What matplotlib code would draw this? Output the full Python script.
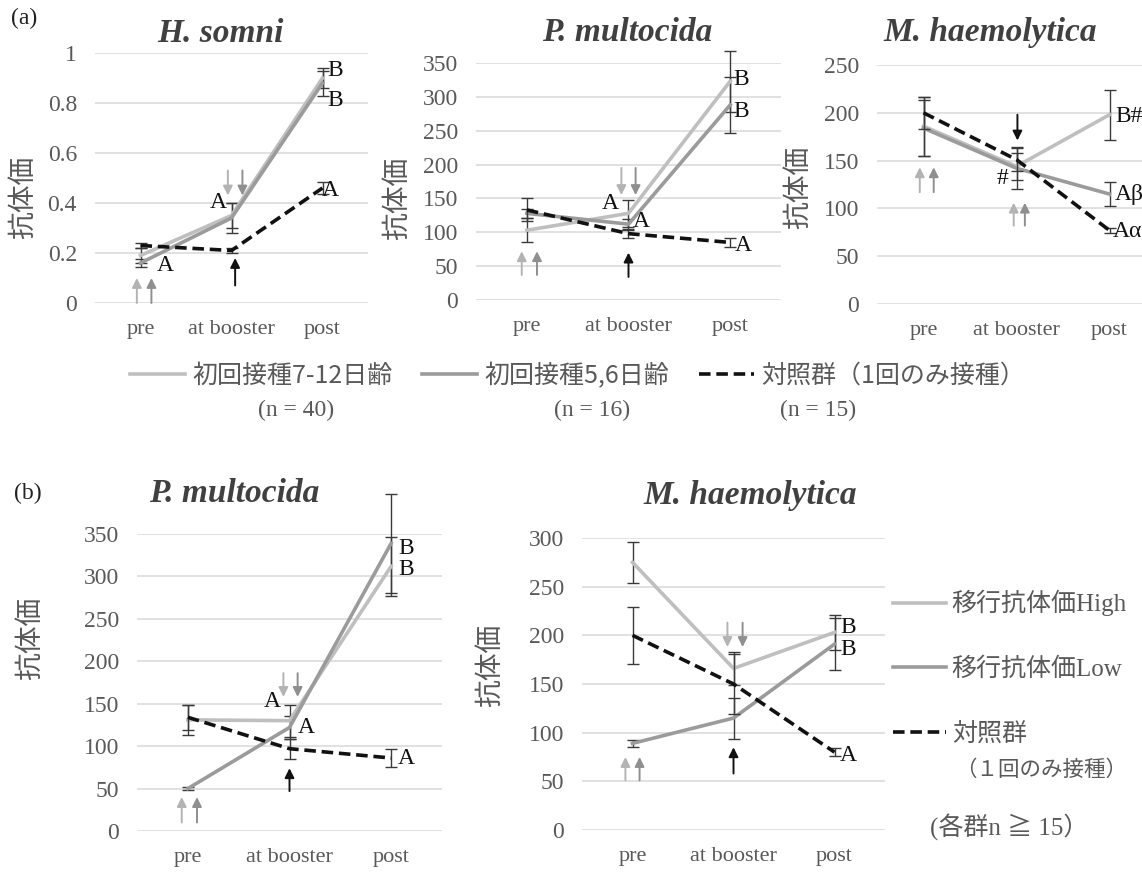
import matplotlib
matplotlib.use('Agg')
import matplotlib.pyplot as plt
from matplotlib.lines import Line2D

# ==========================================
# 1. DATA
# ==========================================
stages = ['pre', 'at booster', 'post']

# (a) 初回接種日齢別 : 7-12日齢 / 5,6日齢 / 対照群
hs_712 = [0.19, 0.35, 0.90]
hs_712_err = [0.03, 0.05, 0.04]
hs_56 = [0.16, 0.34, 0.88]
hs_56_err = [0.015, 0.06, 0.05]
hs_ctrl = [0.23, 0.21, 0.46]
hs_ctrl_err = [0.01, 0.01, 0.025]

pm_712 = [103, 128, 323]
pm_712_err = [18, 20, 45]
pm_56 = [128, 112, 288]
pm_56_err = [7, 8, 42]
pm_ctrl = [133, 98, 85]
pm_ctrl_err = [17, 7, 6]

mh_712 = [186, 144, 198]
mh_712_err = [31, 14, 26]
mh_56 = [184, 142, 115]
mh_56_err = [29, 22, 13]
mh_ctrl = [200, 151, 77]
mh_ctrl_err = [17, 12, 3]

# (b) 移行抗体価別 : High / Low / 対照群
bpm_high = [131, 130, 312]
bpm_high_err = [18, 19, 35]
bpm_low = [50, 122, 339]
bpm_low_err = [2, 14, 58]
bpm_ctrl = [134, 97, 86]
bpm_ctrl_err = [15, 12, 11]

bmh_high = [275, 166, 203]
bmh_high_err = [21, 17, 18]
bmh_low = [89, 115, 191]
bmh_low_err = [3.5, 21, 27]
bmh_ctrl = [200, 150, 80]
bmh_ctrl_err = [29, 31, 4]

legend_a = ['初回接種7-12日齢', '初回接種5,6日齢', '対照群（1回のみ接種）']
legend_a_n = ['(n = 40)', '(n = 16)', '(n = 15)']
legend_b = ['移行抗体価High', '移行抗体価Low', '対照群']

# significance letters: (stage index, x offset, y, text, ha)
hs_letters = [(2, 0.14, 0.93, 'B', 'center'), (2, 0.14, 0.81, 'B', 'center'),
              (2, 0.09, 0.45, 'A', 'center'), (1, -0.15, 0.40, 'A', 'center'),
              (0, 0.27, 0.15, 'A', 'center')]
pm_letters = [(2, 0.11, 325, 'B', 'center'), (2, 0.11, 278, 'B', 'center'),
              (1, -0.18, 143, 'A', 'center'), (1, 0.13, 116, 'A', 'center'),
              (2, 0.13, 81, 'A', 'center')]
mh_letters = [(2, 0.06, 196, 'B#', 'left'), (2, 0.06, 115, 'Aβ', 'left'),
              (2, 0.04, 76, 'Aα', 'left'), (1, -0.15, 131, '#', 'center')]
bpm_letters = [(2, 0.15, 333, 'B', 'center'), (2, 0.15, 308, 'B', 'center'),
               (1, -0.17, 153, 'A', 'center'), (1, 0.16, 122, 'A', 'center'),
               (2, 0.15, 86, 'A', 'center')]
bmh_letters = [(2, 0.14, 208, 'B', 'center'), (2, 0.14, 185, 'B', 'center'),
               (2, 0.14, 77, 'A', 'center')]

# vaccination arrows: (stage index, x offset, y from, y to, colour)
hs_arrows = [(0, -0.04, 0.0, 0.10, 'light'), (0, 0.12, 0.0, 0.10, 'mid'),
             (1, -0.04, 0.53, 0.43, 'light'), (1, 0.12, 0.53, 0.43, 'mid'),
             (1, 0.04, 0.07, 0.18, 'black')]
pm_arrows = [(0, -0.05, 37, 72, 'light'), (0, 0.10, 37, 72, 'mid'),
             (1, -0.07, 195, 155, 'light'), (1, 0.07, 195, 155, 'mid'),
             (1, 0.0, 34, 70, 'black')]
mh_arrows = [(0, -0.04, 117, 143, 'light'), (0, 0.11, 117, 143, 'mid'),
             (1, -0.03, 82, 106, 'light'), (1, 0.09, 82, 106, 'mid'),
             (1, 0.01, 198, 171, 'black')]
bpm_arrows = [(0, -0.06, 10, 40, 'light'), (0, 0.09, 10, 40, 'mid'),
              (1, -0.06, 186, 158, 'light'), (1, 0.08, 186, 158, 'mid'),
              (1, 0.0, 47, 74, 'black')]
bmh_arrows = [(0, -0.07, 51, 75, 'light'), (0, 0.07, 51, 75, 'mid'),
              (1, -0.06, 213, 188, 'light'), (1, 0.09, 213, 188, 'mid'),
              (1, 0.0, 58, 85, 'black')]

# ==========================================
# 2. STYLE
# ==========================================
C_LIGHT = '#bfbfbf'
C_MID = '#9b9b9b'
C_CTRL = '#111111'
ARROW_C = {'light': '#b3b3b3', 'mid': '#8f8f8f', 'black': '#111111'}
TXT = '#595959'
SERIF = 'Liberation Serif'
CJK = 'Noto Sans CJK JP'
MIXED = [SERIF, CJK]

W, H = 1142, 873
fig = plt.figure(figsize=(W / 100, H / 100), dpi=100)


def px_axes(left, top, right, bottom):
    return fig.add_axes([left / W, 1 - bottom / H, (right - left) / W, (bottom - top) / H])


def draw_panel(ax, series, ymax, yticks, ylabels, title, title_xy, ylab_xy, letters, arrows):
    x = list(range(len(stages)))
    ax.set_xlim(-0.5, 2.5)
    ax.set_ylim(0, ymax)
    ax.set_yticks(yticks)
    ax.set_yticklabels(ylabels, fontfamily=SERIF, fontsize=17, color=TXT)
    ax.set_xticks(x)
    ax.set_xticklabels(stages, fontfamily=SERIF, fontsize=16, color=TXT)
    ax.tick_params(axis='y', length=0, pad=13)
    ax.tick_params(axis='x', length=0, pad=12)
    for s in ax.spines.values():
        s.set_visible(False)
    ax.yaxis.grid(True, color='#d9d9d9', lw=1.1)
    ax.set_axisbelow(True)

    for vals, err, color, dashed in series:
        eb = ax.errorbar(x, vals, yerr=err, color=color, lw=2.6, ecolor='#3a3a3a',
                         elinewidth=1.0, capsize=4, capthick=1.0, zorder=3 if dashed else 2)
        if dashed:
            eb[0].set_dashes([3.2, 1.6])
        for art in eb.get_children():
            art.set_clip_on(False)

    for i, dx, y, t, ha in letters:
        ax.text(i + dx, y, t, fontfamily=SERIF, fontsize=17, color='#111111',
                ha=ha, va='center', zorder=5)

    for i, dx, y0, y1, c in arrows:
        ax.annotate('', xy=(i + dx, y1), xytext=(i + dx, y0), annotation_clip=False,
                    arrowprops=dict(arrowstyle='-|>', color=ARROW_C[c], lw=1.4,
                                    mutation_scale=14, shrinkA=0, shrinkB=0))

    ax.text(title_xy[0], title_xy[1], title, transform=ax.transAxes, fontfamily=SERIF,
            fontsize=24, fontweight='bold', fontstyle='italic', color='#404040',
            ha='center', va='center')
    ax.text(ylab_xy[0], ylab_xy[1], '抗体価', transform=ax.transAxes, fontfamily=CJK,
            fontsize=20, color=TXT, rotation=90, ha='center', va='center')


# ==========================================
# 3. PANEL (a)
# ==========================================
ax1 = px_axes(95, 53, 368, 303)
draw_panel(ax1,
           [(hs_712, hs_712_err, C_LIGHT, False), (hs_56, hs_56_err, C_MID, False),
            (hs_ctrl, hs_ctrl_err, C_CTRL, True)],
           1.0, [0, 0.2, 0.4, 0.6, 0.8, 1.0], ['0', '0.2', '0.4', '0.6', '0.8', '1'],
           'H. somni', (0.458, 1.08), (-0.264, 0.424), hs_letters, hs_arrows)

ax2 = px_axes(476, 63, 781, 300)
draw_panel(ax2,
           [(pm_712, pm_712_err, C_LIGHT, False), (pm_56, pm_56_err, C_MID, False),
            (pm_ctrl, pm_ctrl_err, C_CTRL, True)],
           350, list(range(0, 351, 50)), [str(v) for v in range(0, 351, 50)],
           'P. multocida', (0.495, 1.13), (-0.259, 0.43), pm_letters, pm_arrows)

ax3 = px_axes(877, 65, 1156, 304)
draw_panel(ax3,
           [(mh_712, mh_712_err, C_LIGHT, False), (mh_56, mh_56_err, C_MID, False),
            (mh_ctrl, mh_ctrl_err, C_CTRL, True)],
           250, list(range(0, 251, 50)), [str(v) for v in range(0, 251, 50)],
           'M. haemolytica', (0.405, 1.134), (-0.283, 0.49), mh_letters, mh_arrows)

fig.text(24 / W, 1 - 18 / H, '(a)', fontfamily=SERIF, fontsize=17, color='#222222',
         ha='center', va='center')

handles_a = [Line2D([], [], color=C_LIGHT, lw=2.6), Line2D([], [], color=C_MID, lw=2.6),
             Line2D([], [], color=C_CTRL, lw=2.6, dashes=[3.2, 1.6])]
fig.legend(handles_a, legend_a, loc='center left', bbox_to_anchor=(130 / W, 1 - 376 / H),
           ncol=3, frameon=False, handlelength=2.2, handletextpad=0.28, columnspacing=1.2,
           borderpad=0, borderaxespad=0, prop={'family': CJK, 'size': 18},
           labelcolor=TXT)
for txt, xc in zip(legend_a_n, [296, 592, 818]):
    fig.text(xc / W, 1 - 410 / H, txt, fontfamily=SERIF, fontsize=17, color=TXT,
             ha='center', va='center')

# ==========================================
# 4. PANEL (b)
# ==========================================
ax4 = px_axes(137, 534, 442, 831)
draw_panel(ax4,
           [(bpm_high, bpm_high_err, C_LIGHT, False), (bpm_low, bpm_low_err, C_MID, False),
            (bpm_ctrl, bpm_ctrl_err, C_CTRL, True)],
           350, list(range(0, 351, 50)), [str(v) for v in range(0, 351, 50)],
           'P. multocida', (0.318, 1.138), (-0.351, 0.65), bpm_letters, bpm_arrows)

ax5 = px_axes(582, 538, 885, 830)
draw_panel(ax5,
           [(bmh_high, bmh_high_err, C_LIGHT, False), (bmh_low, bmh_low_err, C_MID, False),
            (bmh_ctrl, bmh_ctrl_err, C_CTRL, True)],
           300, list(range(0, 301, 50)), [str(v) for v in range(0, 301, 50)],
           'M. haemolytica', (0.554, 1.144), (-0.304, 0.565), bmh_letters, bmh_arrows)

fig.text(28 / W, 1 - 493 / H, '(b)', fontfamily=SERIF, fontsize=17, color='#222222',
         ha='center', va='center')

fig.legend(handles_a, legend_b, loc='upper left', bbox_to_anchor=(893 / W, 1 - 590 / H),
           ncol=1, frameon=False, handlelength=2.1, handletextpad=0.25, labelspacing=1.65,
           borderpad=0, borderaxespad=0, prop={'family': MIXED, 'size': 18},
           labelcolor=TXT)
fig.text(955 / W, 1 - 770 / H, '（１回のみ接種）', fontfamily=CJK, fontsize=15.5, color=TXT,
         ha='left', va='center')
fig.text(930 / W, 1 - 827 / H, '(各群n ≧ 15）', fontfamily=MIXED, fontsize=18,
         color=TXT, ha='left', va='center')

plt.savefig('out.png', dpi=100)
plt.close()
